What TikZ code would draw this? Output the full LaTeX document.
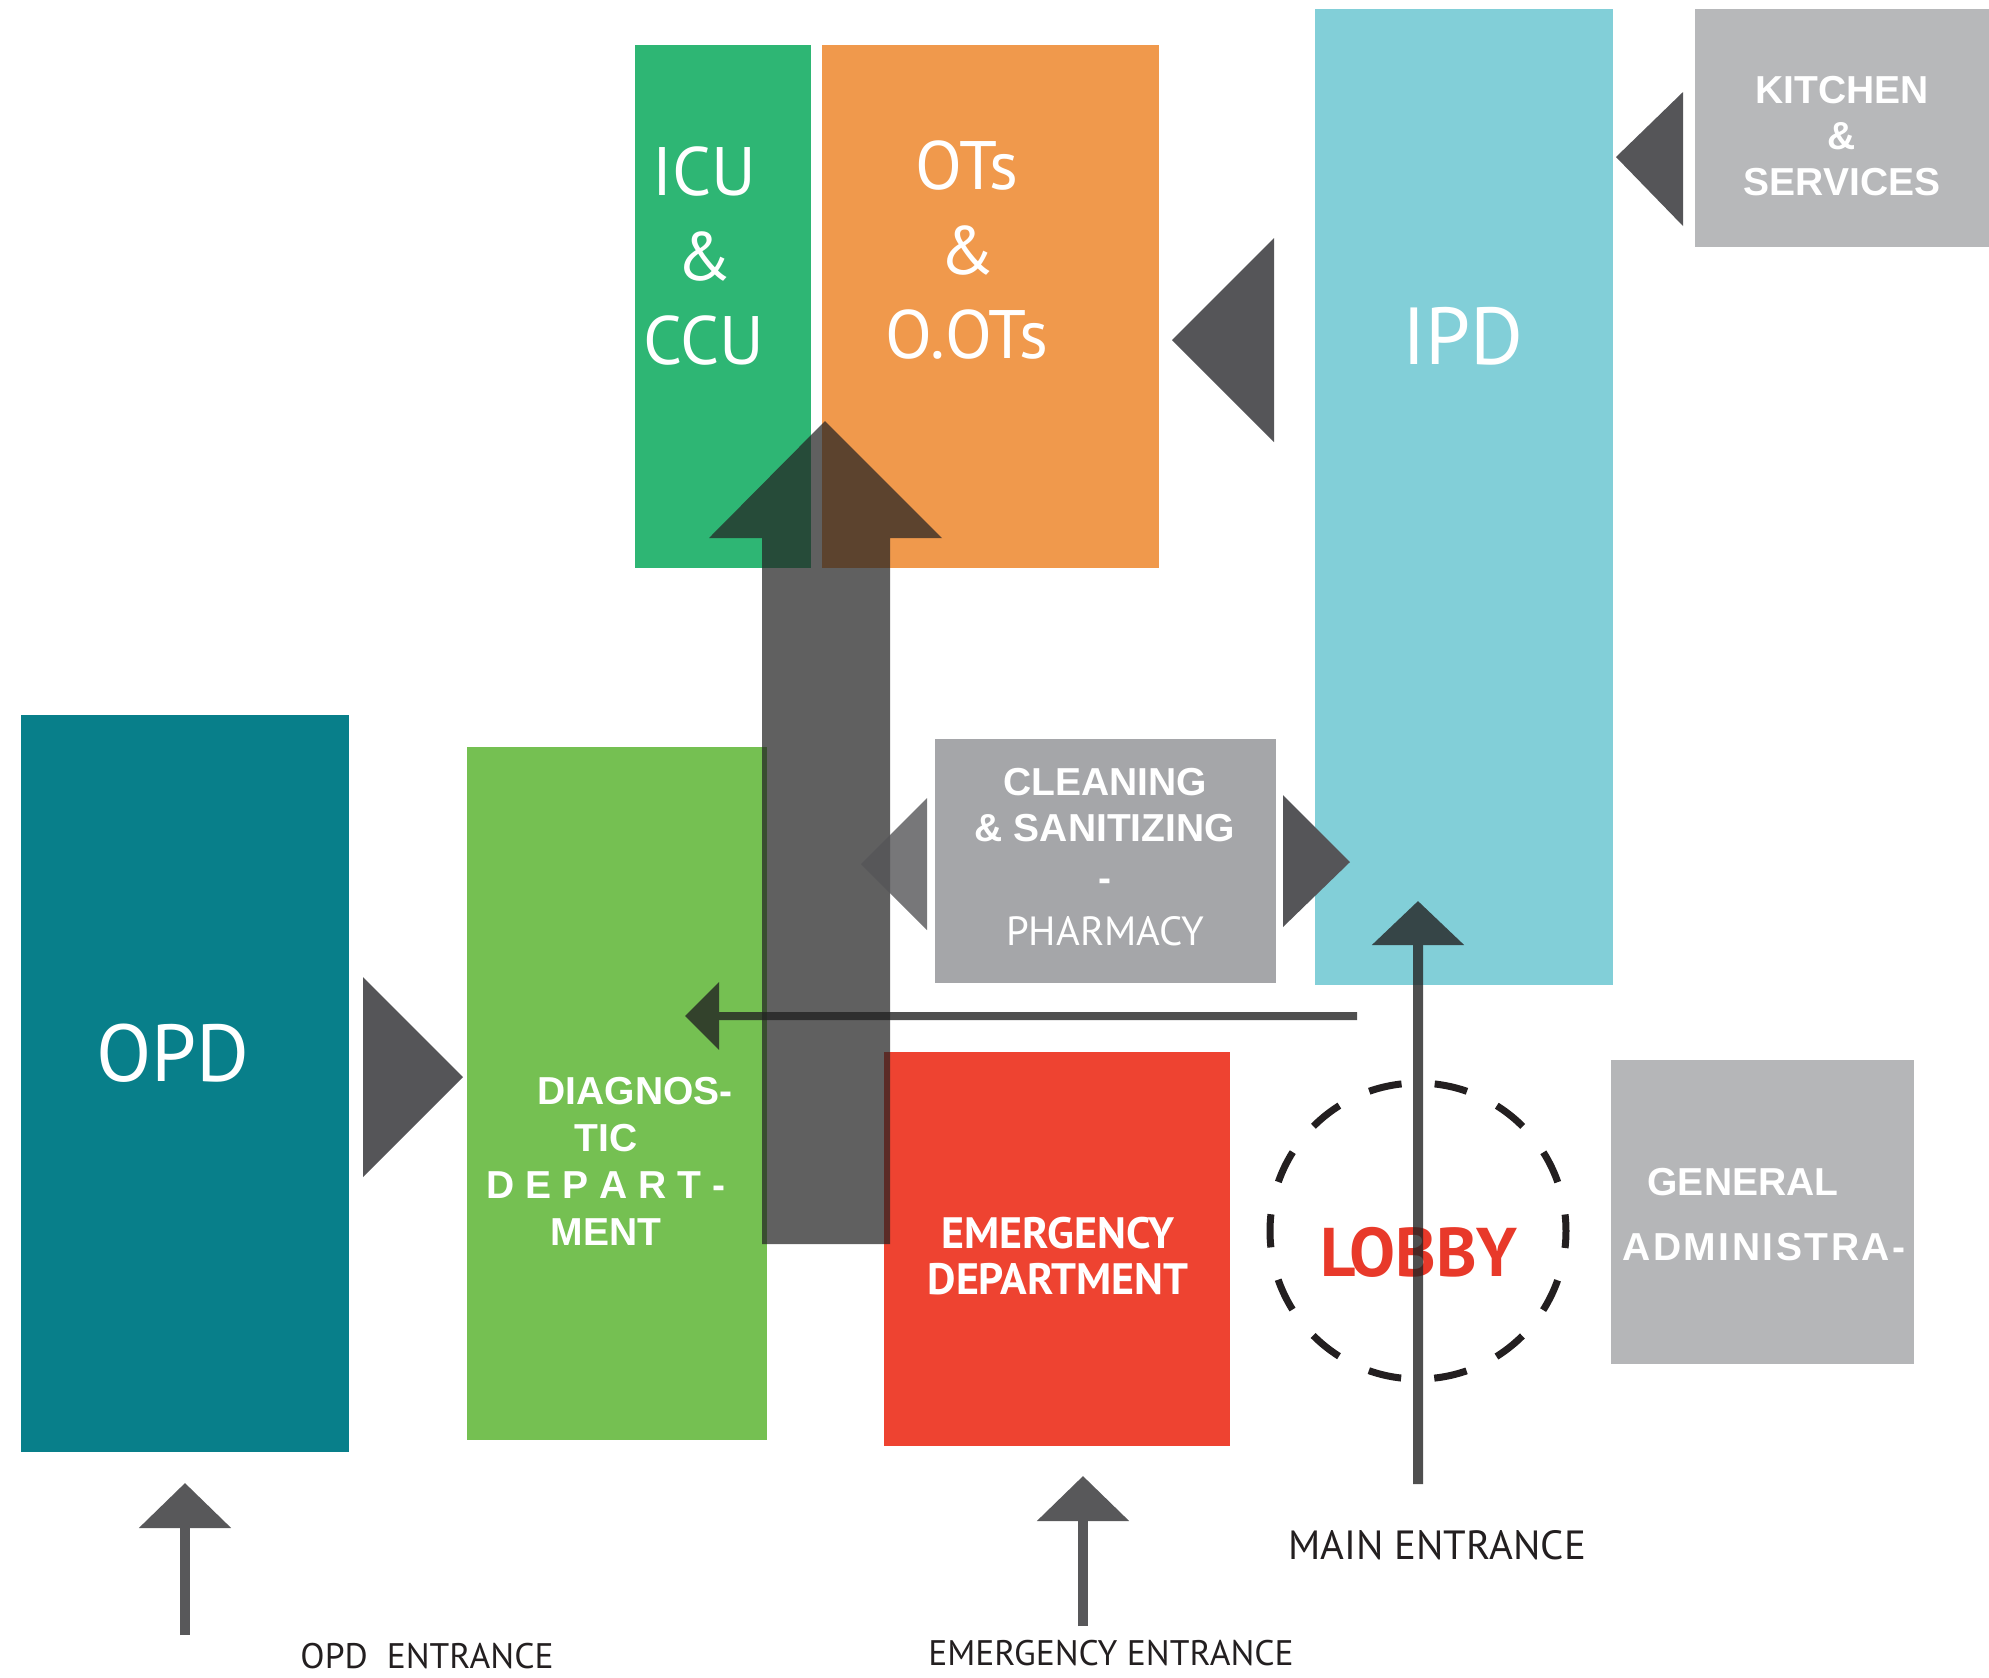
\documentclass[tikz,border=0pt]{standalone}
\usepackage{fontspec}
\setmainfont{Liberation Sans}
\newfontfamily\dinfont{PT Sans}
\usetikzlibrary{arrows.meta,fit}
\definecolor{cicu}{RGB}{46,182,116}
\definecolor{cot}{RGB}{240,153,76}
\definecolor{cipd}{RGB}{130,207,216}
\definecolor{ckit}{RGB}{183,184,186}
\definecolor{cclean}{RGB}{165,166,169}
\definecolor{cgen}{RGB}{181,182,184}
\definecolor{copd}{RGB}{8,127,138}
\definecolor{cdiag}{RGB}{117,192,82}
\definecolor{cemg}{RGB}{238,67,49}
\definecolor{ctri}{RGB}{85,85,88}
\definecolor{cdark}{RGB}{35,35,35}
\definecolor{centry}{RGB}{88,88,90}
\definecolor{clobby}{RGB}{232,57,42}
\definecolor{cink}{RGB}{35,31,32}
\newcommand{\fsz}[2]{\fontsize{#1}{#2}\selectfont}

\begin{document}
\begin{tikzpicture}[x=0.1mm,y=-0.1mm,
    room/.style={inner sep=0pt, outer sep=0pt},
    wedge/.style={fill=ctri},
    flow/.style={line width=0.8mm, draw=cdark, -{Triangle[length=3.4mm,width=6.6mm]}},
    entry/.style={line width=1mm, draw=centry, -{Triangle[length=4.5mm,width=9mm]}},
    bigtxt/.style={font=\dinfont\fsz{19.5}{24}, text=white, align=center},
    hugetxt/.style={font=\dinfont\fsz{23}{27}, text=white},
    boldtxt/.style={font=\bfseries\fsz{11.1}{13.2}, text=white, align=center},
    labeltxt/.style={font=\dinfont\fsz{10.1}{12}, text=cink}]
  \useasboundingbox (0,0) rectangle (1989,1677);
  % rooms
  \node[room, fill=cicu, fit={(635,45) (811,568)}] (icu) {};
  \node[room, fill=cot, fit={(822,45) (1159,568)}] (ot) {};
  \node[room, fill=cipd, fit={(1315,9) (1613,985)}] (ipd) {};
  \node[room, fill=ckit, fit={(1695,9) (1989,247)}] (kitchen) {};
  \node[room, fill=copd, fit={(21,715) (349,1452)}] (opd) {};
  \node[room, fill=cdiag, fit={(467,747) (767,1440)}] (diag) {};
  \node[room, fill=cclean, fit={(935,739) (1276,983)}] (clean) {};
  \node[room, fill=cemg, fit={(884,1052) (1230,1446)}] (emg) {};
  \node[room, fill=cgen, fit={(1611,1060) (1914,1364)}] (gen) {};
  % main flow up to the theatres
  \fill[cdark, fill opacity=0.72] (762,1244) -- (762,538) -- (709,538) -- (825,421)
    -- (942,538) -- (890,538) -- (890,1244) -- cycle;
  % wedges
  \fill[wedge] (1274,238) -- (1172,340) -- (1274,442) -- cycle;
  \fill[wedge] (1683,92) -- (1616,157) -- (1683,226) -- cycle;
  \fill[wedge] (363,977) -- (463,1077) -- (363,1177) -- cycle;
  \fill[wedge, fill opacity=0.8] (927,798) -- (861,864) -- (927,930) -- cycle;
  \fill[wedge] (1283,795) -- (1350,862) -- (1283,927) -- cycle;
  % texts
  \node[bigtxt] (icutxt) at (704,256) {ICU\\\&\\CCU};
  \node[bigtxt] (ottxt) at (967,250) {OTs\\\&\\O.OTs};
  \node[hugetxt] (ipdtxt) at (1463,336) {IPD};
  \node[hugetxt] (opdtxt) at (173,1053) {OPD};
  \node[boldtxt] (kittxt) at (1842,136) {KITCHEN\\\&\\SERVICES};
  \node[boldtxt] (cleantxt) at (1105,857) {CLEANING\\\& SANITIZING\\[1pt]-\\[2pt]{\dinfont\mdseries\fsz{11.6}{14}PHARMACY}};
  \node[boldtxt, font=\bfseries\fsz{11.1}{13.4}] (diagtxt) at (606,1161)
    {\hspace*{5.8mm}DIAGNOS-\\TIC\\D E P A R T -\\MENT};
  \node[bigtxt, font=\dinfont\bfseries\fsz{12.5}{13}] (emgtxt) at (1058,1256) {EMERGENCY\\DEPARTMENT};
  \node[boldtxt] (gentxt) at (1743,1182) {GENERAL};
  \node[boldtxt, font=\bfseries\fsz{11.1}{13.2}\addfontfeature{LetterSpace=6.4}] (admtxt) at (1764,1247) {ADMINISTRA-};
  % links
  \coordinate (hstart) at (1357,1016);
  \coordinate (htip) at (685,1016);
  \begin{scope}[transparency group, opacity=0.8]
    \draw[flow] (hstart) -- (htip);
  \end{scope}
  % lobby
  \node[draw=cink, circle, line width=0.7mm, minimum size=29.6mm, inner sep=0pt,
    dash pattern=on 3.32mm off 3.32mm, dash phase=1.66mm] (lobby) at (1418,1231) {};
  \node[font=\dinfont\bfseries\fsz{19.6}{24}, text=clobby] (lobbytxt) at (1419,1252) {LOBBY};
  % entrances
  \coordinate (mainin) at (1418,1484);
  \coordinate (maintip) at (1418,901);
  \begin{scope}[transparency group, opacity=0.8]
    \draw[flow, line width=1mm, -{Triangle[length=4.4mm,width=9mm]}] (mainin) -- (maintip);
  \end{scope}
  \coordinate (emgin) at (1083,1626);
  \coordinate (emgtip) at (1083,1476);
  \draw[entry] (emgin) -- (emgtip);
  \coordinate (opdin) at (185,1635);
  \coordinate (opdtip) at (185,1483);
  \draw[entry] (opdin) -- (opdtip);
  \node[labeltxt, font=\dinfont\fsz{11.6}{13}] (mainlbl) at (1437,1545) {MAIN ENTRANCE};
  \node[labeltxt] (emglbl) at (1111,1653) {EMERGENCY ENTRANCE};
  \node[labeltxt] (opdlbl) at (427,1656) {OPD\ \ ENTRANCE};
\end{tikzpicture}
\end{document}
